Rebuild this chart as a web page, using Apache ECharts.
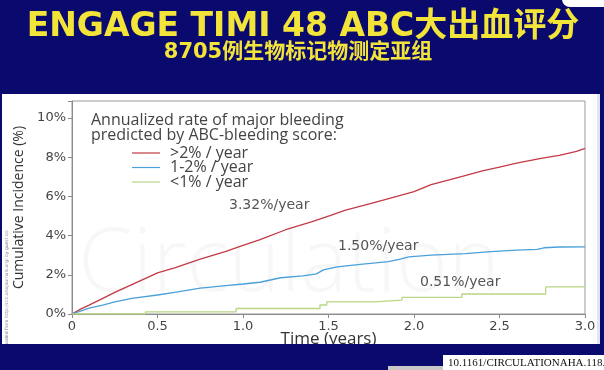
<!DOCTYPE html>
<html>
<head>
<meta charset="utf-8">
<script src="https://cdn.jsdelivr.net/npm/echarts@6/dist/echarts.min.js"></script>
<style>
html,body{margin:0;padding:0;background:#0a0a6e;}
#c{width:604px;height:370px;}
</style>
</head>
<body>
<div id="c"></div>
<script>
// ---- data ----
const titleText = 'ENGAGE TIMI 48 ABC大出血评分';
const subtitleText = '8705例生物标记物测定亚组';
const legendHeader = ['Annualized rate of major bleeding', 'predicted by ABC-bleeding score:'];
const seriesNames = ['>2% / year', '1-2% / year', '<1% / year'];
const rateLabels = ['3.32%/year', '1.50%/year', '0.51%/year'];
const xTicks = [0, 0.5, 1.0, 1.5, 2.0, 2.5, 3.0];
const yTicks = [0, 2, 4, 6, 8, 10];

const redT = [0, 0.05, 0.1, 0.18, 0.25, 0.35, 0.5, 0.6, 0.75, 0.9, 1.0, 1.1, 1.25, 1.4, 1.5, 1.6, 1.75, 1.9, 2.0, 2.1, 2.25, 2.4, 2.5, 2.6, 2.75, 2.85, 2.95, 3.0];
const redV = [0, 0.25, 0.45, 0.8, 1.1, 1.5, 2.1, 2.35, 2.8, 3.2, 3.5, 3.8, 4.3, 4.7, 5.0, 5.3, 5.65, 6.0, 6.25, 6.6, 6.95, 7.3, 7.5, 7.7, 7.95, 8.1, 8.3, 8.45];

const blueT = [0, 0.05, 0.1, 0.18, 0.25, 0.35, 0.5, 0.6, 0.75, 0.9, 1.0, 1.1, 1.22, 1.35, 1.43, 1.47, 1.55, 1.7, 1.85, 1.92, 1.97, 2.1, 2.3, 2.45, 2.6, 2.72, 2.76, 2.85, 3.0];
const blueV = [0, 0.15, 0.3, 0.45, 0.62, 0.8, 0.97, 1.1, 1.32, 1.45, 1.53, 1.62, 1.85, 1.95, 2.05, 2.25, 2.4, 2.55, 2.67, 2.8, 2.92, 3.0, 3.08, 3.18, 3.26, 3.3, 3.38, 3.42, 3.43];

const greenT = [0, 0.43, 0.96, 1.45, 1.49, 1.77, 1.93, 2.28, 2.77, 3.0];
const greenV = [0, 0.11, 0.28, 0.46, 0.62, 0.71, 0.85, 1.02, 1.38, 1.38];

const colors = ['#c23a44', '#4aa0da', '#b9d684'];

function pairs(t, v) { return t.map((x, i) => [x, v[i]]); }

const chart = echarts.init(document.getElementById('c'), null, {renderer: 'canvas'});
const font = '"Open Sans", sans-serif';
const vfont = '"DejaVu Sans", sans-serif';

chart.setOption({
  backgroundColor: '#0a0a6e',
  animation: false,
  grid: {left: 72, right: 19, top: 101, bottom: 56, show: true, borderColor: '#9a9a9a', borderWidth: 1, backgroundColor: 'transparent'},
  legend: {
    orient: 'vertical', left: 132, top: 145, padding: 0, itemGap: -1.5,
    icon: 'rect', itemWidth: 28, itemHeight: 1.2,
    textStyle: {fontFamily: font, fontSize: 16, color: '#444', lineHeight: 15, padding: [0, 0, 0, 5]},
    data: seriesNames
  },
  xAxis: {
    type: 'value', min: 0, max: 3, interval: 0.5,
    axisLine: {lineStyle: {color: '#8a8a8a'}},
    axisTick: {show: true, length: 4, lineStyle: {color: '#8a8a8a'}},
    splitLine: {show: false},
    axisLabel: {fontFamily: vfont, fontSize: 13, color: '#444', margin: 6,
      formatter: v => xTicks.indexOf(v) === 0 ? '0' : (xTicks.indexOf(v) > 0 ? v.toFixed(1) : '')},
    name: 'Time (years)', nameLocation: 'middle', nameGap: 17, nameMoveOverlap: false,
    nameTextStyle: {fontFamily: font, fontSize: 17, color: '#333', verticalAlign: 'top'}
  },
  yAxis: {
    type: 'value', min: 0, max: 10.87, interval: 2,
    axisLine: {show: true, lineStyle: {color: '#8a8a8a'}},
    axisTick: {show: true, length: 4, lineStyle: {color: '#8a8a8a'}},
    splitLine: {show: false},
    axisLabel: {fontFamily: vfont, fontSize: 13, color: '#444', margin: 6,
      formatter: v => yTicks.indexOf(v) >= 0 ? v + '%' : ''},
    name: 'Cumulative Incidence (%)', nameLocation: 'middle', nameGap: 42, nameRotate: 90,
    nameTextStyle: {fontFamily: font, fontSize: 14, color: '#333'}
  },
  series: [
    {name: seriesNames[0], type: 'line', data: pairs(redT, redV), showSymbol: false, symbol: 'none',
     lineStyle: {color: colors[0], width: 1.3}, itemStyle: {color: colors[0]}},
    {name: seriesNames[1], type: 'line', data: pairs(blueT, blueV), showSymbol: false, symbol: 'none',
     lineStyle: {color: colors[1], width: 1.3}, itemStyle: {color: colors[1]}},
    {name: seriesNames[2], type: 'line', data: pairs(greenT, greenV), step: 'end', showSymbol: false, symbol: 'none',
     lineStyle: {color: colors[2], width: 1.3}, itemStyle: {color: colors[2]}}
  ],
  graphic: [
    {type: 'rect', z: -100, shape: {x: 2, y: 94, width: 597, height: 250}, style: {fill: '#ffffff'}},
    {type: 'rect', z: -99, shape: {x: 597, y: 94, width: 3, height: 250}, style: {fill: '#dfe6f2'}},
    {type: 'text', z: -90, left: 78, top: 222, style: {text: 'Circulation', font: '300 88px "Open Sans", sans-serif', fill: 'rgba(0,0,0,0.03)'}},
    {type: 'rect', z: 1, shape: {x: 562, y: -10, width: 60, height: 17, r: 8}, style: {fill: '#ffffff'}},
    {type: 'text', z: 10, x: 303, y: 27, style: {text: titleText, font: 'bold 33px "DejaVu Sans", "Noto Sans CJK SC", sans-serif', fill: '#f3e43a', textAlign: 'center', textVerticalAlign: 'middle'}},
    {type: 'text', z: 10, x: 298, y: 53, style: {text: subtitleText, font: 'bold 21px "DejaVu Sans", "Noto Sans CJK SC", sans-serif', fill: '#f3e43a', textAlign: 'center', textVerticalAlign: 'middle'}},
    {type: 'text', z: 10, x: 91, y: 120, style: {text: legendHeader[0], font: '16px "Open Sans", sans-serif', fill: '#444', textVerticalAlign: 'middle'}},
    {type: 'text', z: 10, x: 91, y: 135, style: {text: legendHeader[1], font: '16px "Open Sans", sans-serif', fill: '#444', textVerticalAlign: 'middle'}},
    {type: 'text', z: 10, x: 229, y: 205, style: {text: rateLabels[0], font: '14px "DejaVu Sans", sans-serif', fill: '#555', textVerticalAlign: 'middle'}},
    {type: 'text', z: 10, x: 338, y: 246, style: {text: rateLabels[1], font: '14px "DejaVu Sans", sans-serif', fill: '#555', textVerticalAlign: 'middle'}},
    {type: 'text', z: 10, x: 420, y: 282, style: {text: rateLabels[2], font: '14px "DejaVu Sans", sans-serif', fill: '#555', textVerticalAlign: 'middle'}},
    {type: 'text', z: 10, x: 7, y: 295, rotation: Math.PI / 2, style: {text: 'Downloaded from http://circ.ahajournals.org/ by guest on', font: '4.5px "DejaVu Sans", sans-serif', fill: '#888', textAlign: 'center', textVerticalAlign: 'middle'}},
    {type: 'rect', z: 100, shape: {x: 0, y: 344, width: 604, height: 26}, style: {fill: '#0a0a6e'}},
    {type: 'rect', z: 101, shape: {x: 388, y: 366, width: 55, height: 4}, style: {fill: '#c8c8c8'}},
    {type: 'rect', z: 101, shape: {x: 443, y: 355, width: 161, height: 15}, style: {fill: '#ffffff'}},
    {type: 'text', z: 102, x: 448, y: 363, style: {text: '10.1161/CIRCULATIONAHA.118.034004', font: '11px "Liberation Serif", serif', fill: '#111', textVerticalAlign: 'middle'}}
  ]
});
</script>
</body>
</html>
